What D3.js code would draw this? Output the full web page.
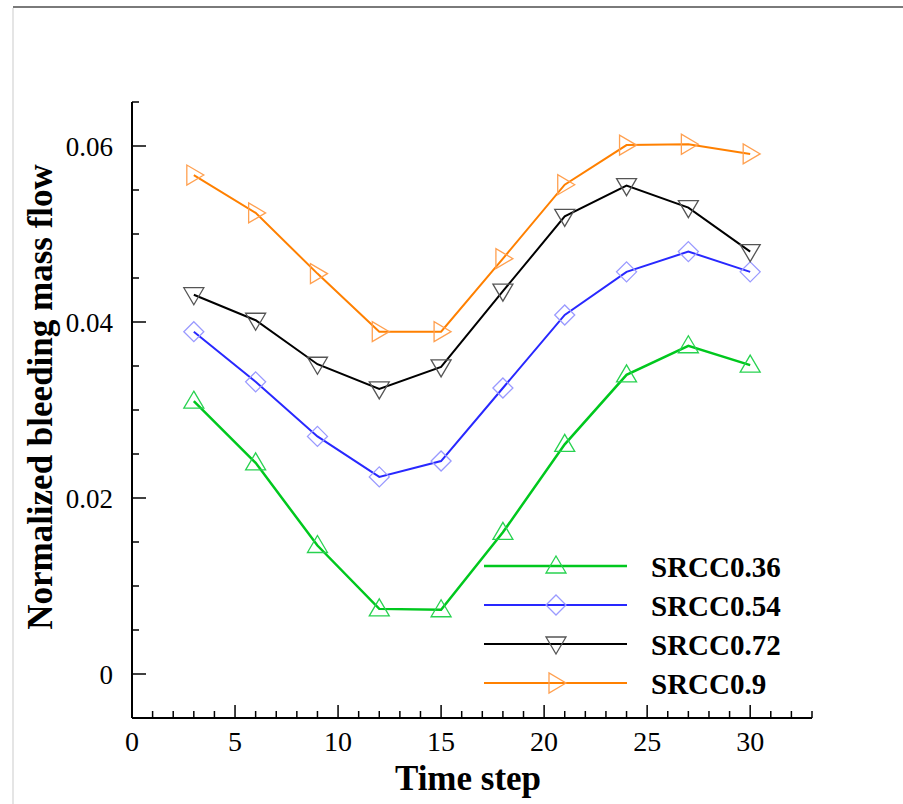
<!DOCTYPE html>
<html>
<head>
<meta charset="utf-8">
<script src="https://cdn.jsdelivr.net/npm/d3@7"></script>
<style>
  body { margin: 0; background: #fff; }
  svg { display: block; }
</style>
</head>
<body>
<script>
// time steps and the four bleeding curves
const steps = [3, 6, 9, 12, 15, 18, 21, 24, 27, 30]
const srcc036 = [0.0310, 0.0240, 0.0146, 0.0074, 0.0073, 0.0161, 0.0261, 0.0340, 0.0373, 0.0351]
const srcc054 = [0.0389, 0.0332, 0.0270, 0.0224, 0.0242, 0.0325, 0.0408, 0.0457, 0.0480, 0.0457]
const srcc072 = [0.0431, 0.0402, 0.0352, 0.0324, 0.0349, 0.0435, 0.0520, 0.0555, 0.0530, 0.0480]
const srcc090 = [0.0567, 0.0524, 0.0455, 0.0389, 0.0389, 0.0472, 0.0556, 0.0601, 0.0602, 0.0591]

const names = ["SRCC0.36", "SRCC0.54", "SRCC0.72", "SRCC0.9"]
const xTicks = [0, 5, 10, 15, 20, 25, 30]
const yTicks = [0, 0.02, 0.04, 0.06]

const W = 903, H = 804
const svg = d3.select("body").append("svg").attr("width", W).attr("height", H)

// frame lines of the figure
svg.append("line").attr("x1", 13).attr("x2", W).attr("y1", 7).attr("y2", 7)
    .style("stroke", "#7a7a7a").style("stroke-width", 2)
svg.append("line").attr("x1", 13).attr("x2", 13).attr("y1", 8).attr("y2", H)
    .style("stroke", "#dcdcdc").style("stroke-width", 1.5)

const x = d3.scaleLinear([0, 33], [132, 812])
const y = d3.scaleLinear([-0.005, 0.065], [718, 102])

const serif = "'Liberation Serif', 'Times New Roman', serif"

// axes (ticks point inwards)
const xMinor = d3.range(0, 34, 1)
const yMinor = d3.range(-0.005, 0.0651, 0.005)

const ax = svg.append("g").attr("transform", "translate(0,718)")
ax.append("line").attr("x1", x(0)).attr("x2", x(33)).style("stroke", "#000").style("stroke-width", 2)
ax.selectAll(".minor").data(xMinor).enter().append("line")
    .attr("x1", d => x(d)).attr("x2", d => x(d)).attr("y1", 0).attr("y2", d => d % 5 == 0 ? -13 : -7)
    .style("stroke", "#000").style("stroke-width", 1.5)
ax.selectAll("text").data(xTicks).enter().append("text")
    .attr("x", d => x(d)).attr("y", 33).attr("text-anchor", "middle")
    .style("font", "28px " + serif).text(d => d)

const ay = svg.append("g")
ay.append("line").attr("x1", 132).attr("x2", 132).attr("y1", y(0.065)).attr("y2", y(-0.005))
    .style("stroke", "#000").style("stroke-width", 2)
ay.selectAll(".minor").data(yMinor).enter().append("line")
    .attr("x1", 132).attr("x2", d => Math.abs(d / 0.02 - Math.round(d / 0.02)) < 1e-6 ? 146 : 139)
    .attr("y1", d => y(d)).attr("y2", d => y(d))
    .style("stroke", "#000").style("stroke-width", 1.5)
ay.selectAll("text").data(yTicks).enter().append("text")
    .attr("x", 113).attr("y", d => y(d) + 10).attr("text-anchor", "end")
    .style("font", "27px " + serif).text(d => d == 0 ? "0" : d.toFixed(2))

svg.append("text").attr("x", 468).attr("y", 790).attr("text-anchor", "middle")
    .style("font", "bold 35px " + serif).text("Time step")
svg.append("text").attr("transform", "translate(52,397) rotate(-90)").attr("text-anchor", "middle")
    .style("font", "bold 35px " + serif).text("Normalized bleeding mass flow")

// series
const series = [srcc036, srcc054, srcc072, srcc090].map((vals, i) => ({
    name: names[i],
    pts: vals.map((v, j) => [steps[j], v])
}))
const lineColor = ["#00c81e", "#2828ff", "#000000", "#ff8000"]
const markColor = ["#28d250", "#9a9aff", "#555555", "#ffa050"]
const lineW = [2.5, 2, 2, 2]

function marker(sel, i) {
    let s = 10
    let d
    if (i == 0) d = `M0,${-s}L${s},${s * 0.7}L${-s},${s * 0.7}Z`
    if (i == 1) d = `M0,${-s}L${s},0L0,${s}L${-s},0Z`
    if (i == 2) d = `M0,${s}L${s},${-s * 0.7}L${-s},${-s * 0.7}Z`
    if (i == 3) d = `M${s},0L${-s * 0.7},${s}L${-s * 0.7},${-s}Z`
    sel.append("path").attr("d", d).style("fill", "none")
        .style("stroke", markColor[i]).style("stroke-width", 1.3)
}

const line = d3.line().x(d => x(d[0])).y(d => y(d[1]))
series.forEach((s, i) => {
    svg.append("path").datum(s.pts).attr("d", line).style("fill", "none")
        .style("stroke", lineColor[i]).style("stroke-width", lineW[i])
    svg.append("g").selectAll("g").data(s.pts).enter().append("g")
        .attr("transform", d => `translate(${x(d[0])},${y(d[1])})`)
        .each(function () { marker(d3.select(this), i) })
})

// legend
const leg = svg.append("g")
names.forEach((n, i) => {
    let ly = 566 + i * 39
    leg.append("line").attr("x1", 484).attr("x2", 627).attr("y1", ly).attr("y2", ly)
        .style("stroke", lineColor[i]).style("stroke-width", lineW[i])
    marker(leg.append("g").attr("transform", `translate(556,${ly})`), i)
    leg.append("text").attr("x", 651).attr("y", ly + 11).style("font", "bold 29px " + serif).text(n)
})
</script>
</body>
</html>
